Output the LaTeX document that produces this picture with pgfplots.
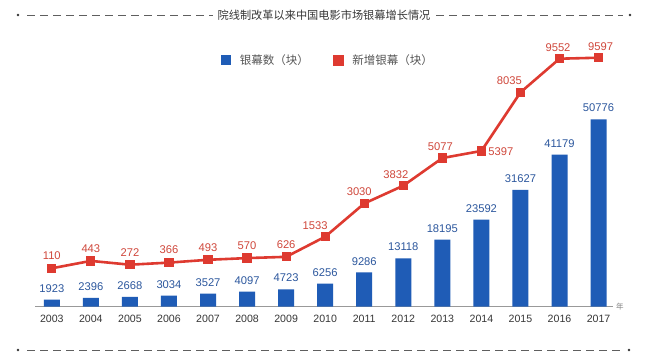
\documentclass[border=0pt]{standalone}
\usepackage{fontspec}
\setmainfont{Liberation Sans}
\newfontfamily\cjk{Noto Sans CJK SC}
\usepackage{pgfplots}
\pgfplotsset{compat=1.18}
\usepackage{pgfplotstable}
\definecolor{barblue}{RGB}{31,92,182}
\definecolor{lblblue}{RGB}{45,88,158}
\definecolor{linered}{RGB}{222,58,48}
\definecolor{lblred}{RGB}{208,72,60}
\definecolor{txtgray}{RGB}{55,55,55}
\definecolor{leggray}{RGB}{85,85,85}
\definecolor{dashgray}{RGB}{95,95,95}

\pgfplotstableread{
x y lab
2003 1923 1923
2004 2396 2396
2005 2668 2668
2006 3034 3034
2007 3527 3527
2008 4097 4097
2009 4723 4723
2010 6256 6256
2011 9286 9286
2012 13118 13118
2013 18195 18195
2014 23592 23592
2015 31627 31627
2016 41179 41179
2017 50776 50776
}\screens

\pgfplotstableread{
x y dx dy lab
2003 110 0 12.5 110
2004 443 0 12.5 443
2005 272 0 12.5 272
2006 366 0 12.5 366
2007 493 0 12.5 493
2008 570 0 12.5 570
2009 626 0 12.5 626
2010 1533 -10 11.5 1533
2011 3030 -5 11.5 3030
2012 3832 -7.5 11.5 3832
2013 5077 -2 11 5077
2014 5397 19.5 -1 5397
2015 8035 -11 12 8035
2016 9552 -1.5 11.5 9552
2017 9597 2 11.5 9597
}\added

\begin{document}
\begin{tikzpicture}[x=1bp,y=1bp]
\path[use as bounding box, fill=white] (0,0) rectangle (655,362);
% title with dashed rules
\node[font=\cjk\fontsize{11.2bp}{13bp}\selectfont, text=txtgray, inner sep=0pt] at (324,347) {院线制改革以来中国电影市场银幕增长情况};
\draw[dashgray, line width=0.8bp, dash pattern=on 8bp off 5bp] (27,347) -- (213,347);
\draw[dashgray, line width=0.8bp, dash pattern=on 8bp off 5bp] (436,347) -- (623,347);
\fill[black!80] (18,347) circle (1.4bp);
\fill[black!80] (630,347) circle (1.4bp);
% bottom dashed rule
\draw[dashgray, line width=0.8bp, dash pattern=on 8bp off 5bp] (27,12) -- (622,12);
\fill[black!80] (18,12) circle (1.4bp);
\fill[black!80] (629,12) circle (1.4bp);

\begin{axis}[
  at={(35bp,55.3bp)}, anchor=south west,
  scale only axis, width=578bp, height=266.7bp,
  xmin=2002.57, xmax=2017.37, ymin=0, ymax=72262,
  axis x line=bottom, axis y line=none,
  axis line style={-, draw=black!40, line width=1.4bp},
  xtick={2003,2004,2005,2006,2007,2008,2009,2010,2011,2012,2013,2014,2015,2016,2017},
  xticklabels={2003,2004,2005,2006,2007,2008,2009,2010,2011,2012,2013,2014,2015,2016,2017},
  ytick=\empty,
  major tick length=0pt,
  xticklabel style={font=\fontsize{10.6bp}{12bp}\selectfont, text=txtgray, anchor=center, yshift=-12.5bp},
  clip=false,
  legend columns=2,
  legend style={at={(0.3213,0.925)}, anchor=west, draw=none, fill=none, inner sep=0pt,
    font=\cjk\fontsize{11.5bp}{13bp}\selectfont, text=leggray,
    nodes={inner sep=0pt}, cells={anchor=west},
    /tikz/every odd column/.style={column sep=9bp},
    /tikz/every even column/.style={column sep=24bp}},
]
\addplot[ybar, bar width=16bp, bar shift=0pt, fill=barblue, draw=none,
  nodes near coords, point meta=explicit symbolic,
  every node near coord/.append style={font=\fontsize{11.2bp}{13bp}\selectfont, text=lblblue, anchor=south, inner sep=0pt, yshift=7bp},
  legend image code/.code={\fill[barblue] (0bp,-5bp) rectangle (10bp,5bp);}
] table[x=x, y=y, meta=lab] {\screens};
\addlegendentry{银幕数（块）}
\addlegendimage{legend image code/.code={\fill[linered] (0bp,-5bp) rectangle (10bp,5bp);}}
\addlegendentry{新增银幕（块）}
\node[font=\cjk\fontsize{7.5bp}{9bp}\selectfont, text=black!50, anchor=west, inner sep=0pt] at (rel axis cs:1,0) {\hspace{3bp}年};
\end{axis}

\begin{axis}[
  at={(35bp,55.3bp)}, anchor=south west,
  scale only axis, width=578bp, height=266.7bp,
  xmin=2002.57, xmax=2017.37, ymin=-1620, ymax=10395,
  hide x axis, hide y axis, clip=false,
]
\addplot[linered, line width=2.6bp, mark=square*, mark size=3.3bp, mark options={solid, fill=linered},
  nodes near coords, point meta=explicit symbolic,
  visualization depends on={\thisrow{dx} \as \dx},
  visualization depends on={\thisrow{dy} \as \dy},
  every node near coord/.append style={font=\fontsize{11.2bp}{13bp}\selectfont, text=lblred, anchor=center, inner sep=0pt, xshift=\dx*1bp, yshift=\dy*1bp}
] table[x=x, y=y, meta=lab] {\added};
\end{axis}
\end{tikzpicture}
\end{document}
